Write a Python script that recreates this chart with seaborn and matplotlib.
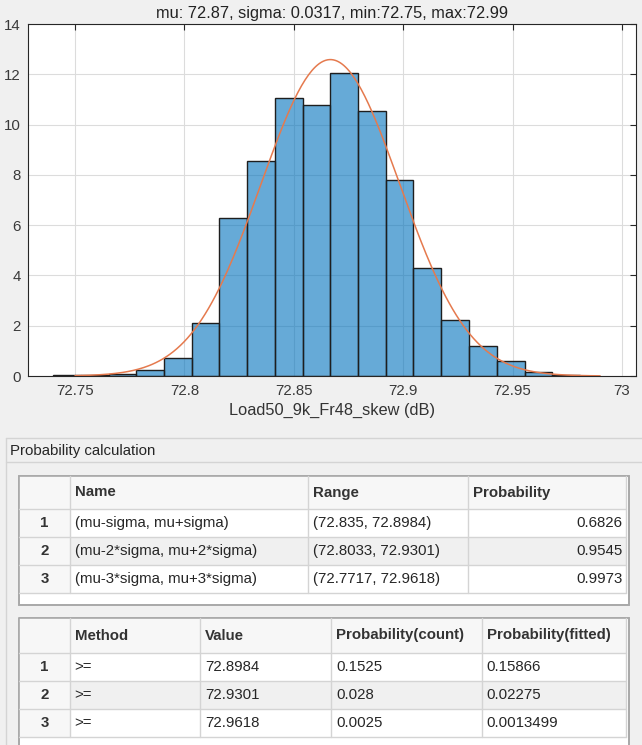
import numpy as np
import pandas as pd
import matplotlib.pyplot as plt
import seaborn as sns
from matplotlib.patches import Rectangle

# fitted normal parameters and data range
mu = 72.8667
sigma = 0.0317
data_min = 72.75
data_max = 72.99

# histogram (pdf normalised), bins of width 0.4*sigma centred on mu
bin_edges = [72.7399, 72.7526, 72.7653, 72.7779, 72.7906, 72.8033, 72.8160,
             72.8287, 72.8413, 72.8540, 72.8667, 72.8794, 72.8921, 72.9047,
             72.9174, 72.9301, 72.9428, 72.9555, 72.9681, 72.9808]
density = [0.04, 0.04, 0.08, 0.25, 0.73, 2.10, 6.28, 8.55, 11.04, 10.78,
           12.07, 10.55, 7.79, 4.28, 2.21, 1.20, 0.61, 0.17, 0.05]

x_ticks = [72.75, 72.8, 72.85, 72.9, 72.95, 73.0]
x_tick_labels = ['72.75', '72.8', '72.85', '72.9', '72.95', '73']
y_ticks = [0, 2, 4, 6, 8, 10, 12, 14]

# table 1
t1_header = ['', 'Name', 'Range', 'Probability']
t1_names = ['(mu-sigma, mu+sigma)', '(mu-2*sigma, mu+2*sigma)', '(mu-3*sigma, mu+3*sigma)']
t1_ranges = ['(72.835, 72.8984)', '(72.8033, 72.9301)', '(72.7717, 72.9618)']
t1_probs = ['0.6826', '0.9545', '0.9973']

# table 2
t2_header = ['', 'Method', 'Value', 'Probability(count)', 'Probability(fitted)']
t2_methods = ['>=', '>=', '>=']
t2_values = ['72.8984', '72.9301', '72.9618']
t2_pcount = ['0.1525', '0.028', '0.0025']
t2_pfit = ['0.15866', '0.02275', '0.0013499']

sns.set_theme(style='white')
plt.rcParams['font.family'] = ['Liberation Sans', 'DejaVu Sans']

W, H = 642, 745
fig = plt.figure(figsize=(W / 100, H / 100), dpi=100)
fig.patch.set_facecolor('#F0F0F0')

# ---- histogram ----
ax = fig.add_axes([28 / W, 1 - 376 / H, 608 / W, 352 / H])
ax.set_facecolor('white')
centers = [(a + b) / 2 for a, b in zip(bin_edges[:-1], bin_edges[1:])]
df = pd.DataFrame({'x': centers, 'w': density})
sns.histplot(data=df, x='x', weights='w', bins=bin_edges, stat='count',
             color='#0072BD', alpha=0.6, edgecolor='#1E1E1E', linewidth=1.0, ax=ax)

xs = np.linspace(data_min, data_max, 300)
pdf = np.exp(-0.5 * ((xs - mu) / sigma) ** 2) / (sigma * np.sqrt(2 * np.pi))
sns.lineplot(x=xs, y=pdf, color='#E57A4E', linewidth=1.1, ax=ax)

ax.set_xlim(72.7285, 73.0064)
ax.set_ylim(0, 14)
ax.set_xticks(x_ticks)
ax.set_xticklabels(x_tick_labels)
ax.set_yticks(y_ticks)
ax.grid(True, color='#DCDCDC', linewidth=0.8)
ax.set_axisbelow(True)
ax.tick_params(direction='in', length=4, width=0.8, color='#262626',
               top=True, right=True, labelsize=10.8, labelcolor='#3A3A3A', pad=6)
ax.tick_params(axis='y', pad=5)
for s in ax.spines.values():
    s.set_color('#262626')
    s.set_linewidth(0.8)
ax.set_title('mu: 72.87, sigma: 0.0317, min:72.75, max:72.99',
             fontsize=11.8, color='#222222', pad=4)
ax.set_xlabel('Load50_9k_Fr48_skew (dB)', fontsize=11.8, color='#333333', labelpad=3)
ax.set_ylabel('')

# ---- panel with tables (pixel coordinates) ----
ov = fig.add_axes([0, 0, 1, 1], zorder=-1)
ov.set_xlim(0, W)
ov.set_ylim(H, 0)
ov.axis('off')

line_c = '#D4D4D4'
ov.plot([6, W], [438, 438], color=line_c, lw=1)
ov.plot([6, 6], [438, H], color=line_c, lw=1)
ov.plot([6, W], [461.5, 461.5], color=line_c, lw=1)
ov.text(10, 451, 'Probability calculation', fontsize=10.8, color='#262626', va='center')


def draw_table(top, row_lines, bottom, col_x, header, rows, aligns):
    left, right = 19.2, 628.5
    ov.add_patch(Rectangle((left, top), right - left, bottom - top,
                           facecolor='white', edgecolor='#A8A8A8', lw=1.2))
    # header and row-number column shading
    ov.add_patch(Rectangle((left, top), col_x[-1] - left, row_lines[0] - top,
                           facecolor='#F7F7F7', edgecolor='none'))
    ov.add_patch(Rectangle((left, top), col_x[1] - left, row_lines[-1] - top,
                           facecolor='#F7F7F7', edgecolor='none'))
    ov.add_patch(Rectangle((col_x[1], row_lines[1]), col_x[-1] - col_x[1],
                           row_lines[2] - row_lines[1], facecolor='#F0F0F0', edgecolor='none'))
    for y in row_lines:
        ov.plot([left, col_x[-1]], [y, y], color=line_c, lw=1)
    for x in col_x[1:]:
        ov.plot([x, x], [top, row_lines[-1]], color=line_c, lw=1)
    ov.add_patch(Rectangle((left, top), right - left, bottom - top,
                           facecolor='none', edgecolor='#A8A8A8', lw=1.2))
    hy = (top + row_lines[0]) / 2
    for j, h in enumerate(header):
        if h:
            ov.text(col_x[j] + 5, hy, h, fontsize=10.8, fontweight='bold',
                    color='#333333', va='center')
    for i, row in enumerate(rows):
        yc = (row_lines[i] + row_lines[i + 1]) / 2
        ov.text((left + col_x[1]) / 2, yc, str(i + 1), fontsize=10.8, fontweight='bold',
                color='#333333', va='center', ha='center')
        for j, val in enumerate(row):
            if aligns[j] == 'right':
                ov.text(col_x[j + 2] - 4, yc, val, fontsize=10.8, color='#262626',
                        va='center', ha='right')
            else:
                ov.text(col_x[j + 1] + 5, yc, val, fontsize=10.8, color='#262626',
                        va='center', ha='left')


draw_table(475.7, [509.3, 537.3, 565.3, 593.3], 605,
           [19.2, 69.6, 308.3, 468.0, 626.4], t1_header,
           list(zip(t1_names, t1_ranges, t1_probs)), ['left', 'left', 'right'])
draw_table(618.3, [652.7, 681.2, 709.3, 737.3], 770,
           [19.2, 69.6, 200.2, 331.2, 481.5, 626.4], t2_header,
           list(zip(t2_methods, t2_values, t2_pcount, t2_pfit)),
           ['left', 'left', 'left', 'left'])

fig.savefig('out.png', dpi=100, facecolor=fig.get_facecolor())
